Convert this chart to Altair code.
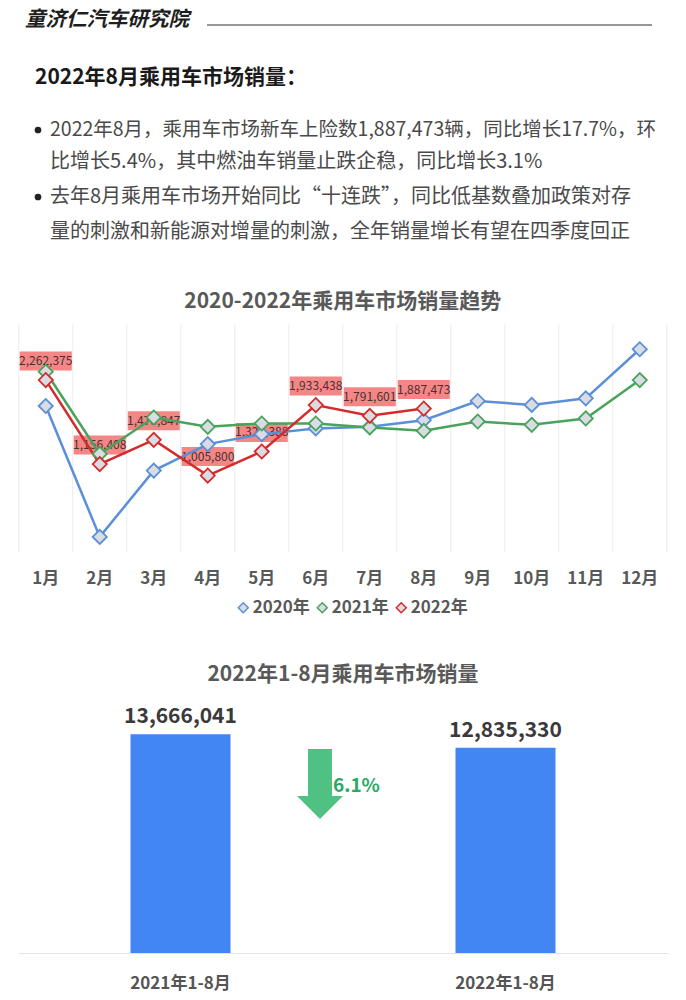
import altair as alt
import pandas as pd

FONT = "Noto Sans CJK SC"

# ---------------- data ----------------
months = ["1月", "2月", "3月", "4月", "5月", "6月", "7月", "8月", "9月", "10月", "11月", "12月"]
years = ["2020年", "2021年", "2022年"]
year_colors = ["#5b8fd8", "#4aa35c", "#d42b2b"]
sales_2020 = [1921000, 199000, 1071000, 1420000, 1551000, 1626000, 1647000, 1734000, 1987000, 1935000, 2022000, 2668000]
sales_2021 = [2372000, 1290000, 1770000, 1647000, 1691000, 1691000, 1639000, 1594000, 1717000, 1673000, 1757000, 2262000]
sales_2022 = [2262375, 1156408, 1475847, 1005800, 1322388, 1933438, 1791601, 1887473]

periods = ["2021年1-8月", "2022年1-8月"]
period_sales = [13666041, 12835330]
change_label = ["6.1%"]

header_org = "童济仁汽车研究院"
section_title = "2022年8月乘用车市场销量："
bullet_lines = [
    "2022年8月，乘用车市场新车上险数1,887,473辆，同比增长17.7%，环",
    "比增长5.4%，其中燃油车销量止跌企稳，同比增长3.1%",
    "去年8月乘用车市场开始同比“十连跌”，同比低基数叠加政策对存",
    "量的刺激和新能源对增量的刺激，全年销量增长有望在四季度回正",
]
line_title = "2020-2022年乘用车市场销量趋势"
bar_title = "2022年1-8月乘用车市场销量"

# ---------------- panel A: text header ----------------
one = pd.DataFrame({"k": [0]})
base_a = alt.Chart(one)


def txt(s, x, y, size, weight="normal", color="#444444", style="normal"):
    return base_a.mark_text(
        align="left", baseline="middle", font=FONT, fontSize=size,
        fontWeight=weight, color=color, fontStyle=style,
    ).encode(x=alt.value(x), y=alt.value(y), text=alt.value(s))


layers_a = [
    txt(header_org, 17, 12, 20.5, "bold", "#1e1e1e", "italic"),
    base_a.mark_rule(color="#333333", strokeWidth=1.2).encode(
        x=alt.value(199), x2=alt.value(644), y=alt.value(17)),
    txt(section_title, 27, 70, 21, "bold", "#1a1a1a"),
    base_a.mark_circle(size=45, color="#222222", opacity=1).encode(x=alt.value(30), y=alt.value(122)),
    base_a.mark_circle(size=45, color="#222222", opacity=1).encode(x=alt.value(30), y=alt.value(189)),
]
for line, yy, fs in zip(bullet_lines, [122, 154, 189, 224], [19.5, 20, 20, 20]):
    layers_a.append(txt(line, 42, yy, fs, "normal", "#4a4a4a"))

panel_a = alt.layer(*layers_a).properties(width=670, height=224)

# ---------------- panel B: line chart ----------------
rows = []
for yr, vals in zip(years, [sales_2020, sales_2021, sales_2022]):
    for m, v in zip(months, vals):
        rows.append({"month": m, "year": yr, "sales": v})
df_line = pd.DataFrame(rows)
df_2022 = df_line[df_line["year"] == "2022年"]

xscale = alt.Scale(type="band", paddingInner=0, paddingOuter=0)
yscale = alt.Scale(domain=[0, 3000000])
x_axis = alt.Axis(
    title=None, labelFont=FONT, labelFontSize=17, labelColor="#595959",
    labelFontWeight="bold", ticks=False, tickSize=0, domain=False, grid=False,
    labelPadding=18, labelAngle=0,
)
leg = alt.Legend(
    title=None, orient="none", legendX=216, legendY=275, direction="horizontal",
    symbolType="diamond", symbolFillColor="#d9dde3", symbolStrokeWidth=1.5, symbolSize=100,
    labelFont=FONT, labelFontSize=17, labelColor="#595959", labelFontWeight="bold",
    columnPadding=3, labelOffset=1,
)
X = alt.X("month:N", sort=months, scale=xscale, axis=x_axis)
Y = alt.Y("sales:Q", scale=yscale, axis=None)
STROKE = alt.Stroke("year:N", scale=alt.Scale(domain=years, range=year_colors), legend=leg)

grid_df = pd.DataFrame({"month": months, "lo": 0, "hi": 3000000})
grid = alt.Chart(grid_df).mark_rule(color="#ebebeb", strokeWidth=1).encode(
    x=alt.X("month:N", sort=months, scale=xscale, axis=x_axis, bandPosition=0),
    y=alt.Y("lo:Q", scale=yscale, axis=None), y2="hi:Q")
grid_end = alt.Chart(grid_df.tail(1)).mark_rule(color="#ebebeb", strokeWidth=1).encode(
    x=alt.X("month:N", sort=months, scale=xscale, axis=x_axis, bandPosition=1),
    y=alt.Y("lo:Q", scale=yscale, axis=None), y2="hi:Q")

BOX = "M-1.37,-0.5 L1.37,-0.5 L1.37,0.5 L-1.37,0.5 Z"
boxes = alt.Chart(df_2022).mark_point(
    shape=BOX, size=1444, filled=True, fill="#f48686", opacity=1, strokeWidth=0, yOffset=-19
).encode(x=X, y=Y)
labels = alt.Chart(df_2022).mark_text(
    yOffset=-19, fontSize=12, font=FONT, color="#4a3030", baseline="middle"
).encode(x=X, y=Y, text=alt.Text("sales:Q", format=","))
lines = alt.Chart(df_line).mark_line(strokeWidth=2.5).encode(x=X, y=Y, stroke=STROKE)
points = alt.Chart(df_line).mark_point(
    shape="diamond", size=200, filled=True, fill="#d9dde3", strokeWidth=1.8, opacity=1
).encode(x=X, y=Y, stroke=STROKE)

panel_b = alt.layer(grid, grid_end, boxes, labels, lines, points).properties(
    width=648, height=228,
    title=alt.Title(line_title, font=FONT, fontSize=21, fontWeight="bold",
                    color="#595959", anchor="middle", offset=12),
)

# ---------------- panel C: bar chart ----------------
df_bar = pd.DataFrame({"period": periods, "sales": period_sales})
XB = alt.X("period:N", sort=periods,
           scale=alt.Scale(type="band", paddingInner=0, paddingOuter=0),
           axis=alt.Axis(title=None, labelAngle=0, labelFont=FONT, labelFontSize=17,
                         labelFontWeight="bold", labelColor="#555555", ticks=False,
                         tickSize=0, domainColor="#e3e3e3", labelPadding=22, grid=False))
YB = alt.Y("sales:Q", scale=alt.Scale(domain=[0, 16000000]), axis=None)
bars = alt.Chart(df_bar).mark_bar(size=100, color="#4286f4").encode(x=XB, y=YB)
bar_text = alt.Chart(df_bar).mark_text(
    dy=-17, fontSize=21, fontWeight="bold", color="#3a3a3a", font=FONT, baseline="middle"
).encode(x=XB, y=YB, text=alt.Text("sales:Q", format=","))

ARROW = "M-0.343,-1 L0.343,-1 L0.343,0.343 L0.657,0.343 L0,1 L-0.657,0.343 L-0.343,0.343 Z"
arrow = alt.Chart(one).mark_point(
    shape=ARROW, size=4900, filled=True, fill="#4fc283", opacity=1, strokeWidth=0
).encode(x=alt.value(302), y=alt.value(87))
pct = alt.Chart(pd.DataFrame({"t": change_label})).mark_text(
    align="left", baseline="middle", fontSize=19, fontWeight="bold", color="#2aa866", font=FONT
).encode(x=alt.value(315), y=alt.value(89), text="t:N")

panel_c = alt.layer(bars, bar_text, arrow, pct).properties(
    width=650, height=256,
    title=alt.Title(bar_title, font=FONT, fontSize=21, fontWeight="bold",
                    color="#595959", anchor="middle", offset=12),
)

chart = (
    alt.vconcat(panel_a, panel_b, panel_c, spacing=48, center=True)
    .resolve_scale(stroke="independent")
    .properties(padding={"left": 0, "top": 0, "right": 0, "bottom": 8}, background="white")
    .configure(font=FONT)
    .configure_view(stroke=None)
)

chart.save("out.html", embed_options={"renderer": "svg", "actions": False})
